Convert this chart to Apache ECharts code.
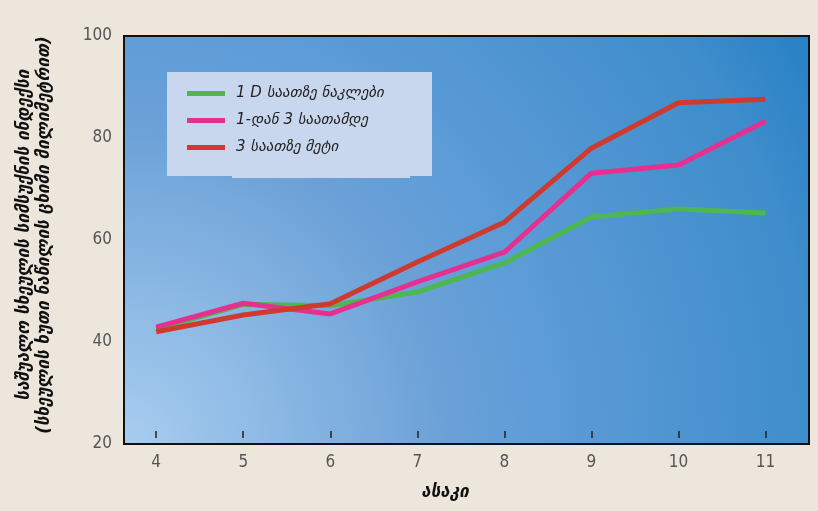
<!DOCTYPE html>
<html>
<head>
<meta charset="utf-8">
<script src="https://cdn.jsdelivr.net/npm/echarts@6/dist/echarts.min.js"></script>
<style>
html,body{margin:0;padding:0;background:#ece6dc;}
#c{width:818px;height:511px;}
</style>
</head>
<body>
<div id="c"></div>
<script>
const ages = [4, 5, 6, 7, 8, 9, 10, 11];
const seriesNames = ['1 D საათზე ნაკლები', '1-დან 3 საათამდე', '3 საათზე მეტი'];
const lessThan1 = [42.5, 47.4, 47.1, 49.8, 55.5, 64.5, 66.1, 65.3];
const oneToThree = [42.9, 47.6, 45.5, 51.8, 57.6, 73.1, 74.7, 83.3];
const moreThan3 = [42.0, 45.3, 47.5, 55.7, 63.5, 78.0, 86.9, 87.6];
const yTicks = [20, 40, 60, 80, 100];
const xTitle = 'ასაკი';
const yTitle1 = 'საშუალო სხეულის სიმსუქნის ინდექსი';
const yTitle2 = '(სხეულის ხუთი ნაწილის ცხიმი მილიმეტრით)';

const colors = ['#4cb84f', '#e5308f', '#cf3a2e'];
const pair = arr => ages.map((a, i) => [a, arr[i]]);

const chart = echarts.init(document.getElementById('c'));
chart.setOption({
  animation: false,
  backgroundColor: '#ece6dc',
  grid: {
    left: 124, right: 9, top: 36, bottom: 67,
    show: true,
    borderColor: '#111', borderWidth: 2,
    backgroundColor: {
      type: 'radial', x: 124, y: 444, r: 800, global: true,
      colorStops: [
        {offset: 0, color: '#a8cdef'},
        {offset: 0.41, color: '#6aa0d7'},
        {offset: 0.51, color: '#5f9dd8'},
        {offset: 0.86, color: '#3f8dcc'},
        {offset: 1, color: '#2580c5'}
      ]
    }
  },
  xAxis: [{
    type: 'value', min: 3.63, max: 11.5,
    axisLine: {show: true, lineStyle: {color: '#111', width: 2}},
    splitLine: {show: false},
    axisTick: {show: false},
    axisLabel: {customValues: ages, margin: 10, fontFamily: 'DejaVu Sans Condensed', fontSize: 17, color: '#555'}
  }, {
    type: 'value', min: 3.63, max: 11.5, position: 'bottom', offset: -6,
    axisLine: {show: false},
    splitLine: {show: false},
    axisLabel: {show: false, customValues: ages},
    axisTick: {show: true, inside: true, length: 7, customValues: ages, lineStyle: {color: '#222', width: 1.5}}
  }],
  yAxis: {
    type: 'value', min: 20, max: 100, interval: 20,
    axisLine: {show: false},
    axisTick: {show: false},
    splitLine: {show: false},
    axisLabel: {margin: 12, fontFamily: 'DejaVu Sans Condensed', fontSize: 17, color: '#555'}
  },
  legend: {
    orient: 'vertical', left: 182, top: 80,
    itemWidth: 38, itemHeight: 5, itemGap: 10,
    icon: 'rect',
    textStyle: {fontFamily: 'DejaVu Sans', fontStyle: 'italic', fontSize: 15, lineHeight: 17, color: '#222', padding: [0, 0, 0, 6]},
    data: seriesNames
  },
  graphic: [
    {type: 'rect', z: 1, shape: {x: 167, y: 72, width: 265, height: 104}, style: {fill: '#c9d7ee'}},
    {type: 'rect', z: 1, shape: {x: 232, y: 170, width: 178, height: 8}, style: {fill: '#c9d7ee'}},
    {type: 'text', x: 35, y: 235, rotation: Math.PI / 2,
      style: {text: yTitle1 + '\n' + yTitle2, align: 'center', verticalAlign: 'middle',
        font: 'italic bold 17px "DejaVu Sans"', lineHeight: 20, fill: '#111'}},
    {type: 'text', x: 445, y: 493,
      style: {text: xTitle, align: 'center', verticalAlign: 'middle',
        font: 'italic bold 17px "DejaVu Sans"', fill: '#111'}}
  ],
  series: [
    {name: seriesNames[0], type: 'line', data: pair(lessThan1), symbol: 'none', z: 3, lineStyle: {width: 5, color: colors[0]}, itemStyle: {color: colors[0]}},
    {name: seriesNames[1], type: 'line', data: pair(oneToThree), symbol: 'none', z: 4, lineStyle: {width: 5, color: colors[1]}, itemStyle: {color: colors[1]}},
    {name: seriesNames[2], type: 'line', data: pair(moreThan3), symbol: 'none', z: 5, lineStyle: {width: 5, color: colors[2]}, itemStyle: {color: colors[2]}}
  ]
});
</script>
</body>
</html>
